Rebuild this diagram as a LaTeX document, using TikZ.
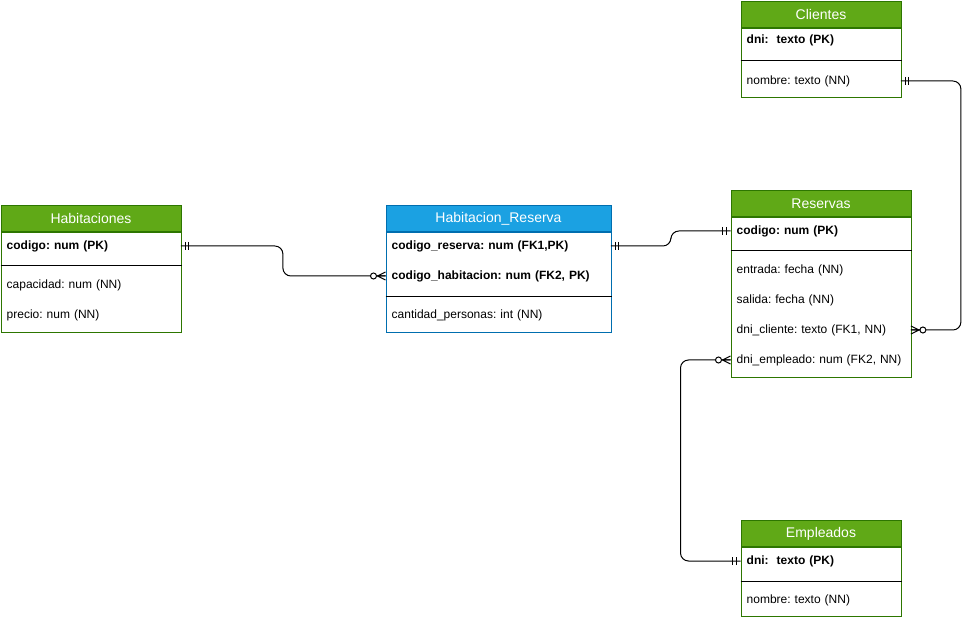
\documentclass[tikz,border=0pt]{standalone}
\usepackage{fontspec}
\setmainfont{Liberation Sans}
\usetikzlibrary{calc}
\definecolor{grn}{HTML}{60A917}
\definecolor{grnd}{HTML}{2D7600}
\definecolor{blu}{HTML}{1BA1E2}
\definecolor{blud}{HTML}{006EAF}
\tikzset{
  hdr/.style={anchor=north west, inner sep=0pt, minimum height=26pt, text=white,
    font=\fontsize{14pt}{16pt}\selectfont, line width=1pt},
  tbox/.style={anchor=north west, inner sep=0pt, fill=white, line width=1pt},
  sepline/.style={line width=1pt, black},
  row/.style={anchor=west, inner xsep=6pt, inner ysep=0pt, text width=#1, align=left,
    font=\fontsize{12pt}{14pt}\selectfont},
  conn/.style={line width=1pt, rounded corners=8pt},
  mk/.style={line width=1pt},
  onemark/.pic={\draw[mk] (4.3,-4) -- (4.3,4) (7.7,-4) -- (7.7,4);},
  zmany/.pic={\draw[mk] (0,-4) -- (8,0) -- (0,4) (0,0) -- (9,0);
              \draw[mk,fill=white] (12,0) circle (3pt);}
}
\begin{document}
\frenchspacing
\begin{tikzpicture}[x=1pt,y=-1pt]
\fill[white] (0,0) rectangle (970,620);
\useasboundingbox (0,0) rectangle (970,620);

% Habitaciones
\node[hdr, fill=grn, draw=grnd, minimum width=180pt] (habh) at (0.5,205) {Habitaciones};
\node[tbox, draw=grnd, minimum width=180pt, minimum height=100pt] (habb) at (habh.south west) {};
\draw[sepline] (habb.west |- 0,266) -- (habb.east |- 0,266);
\node[row=168pt] (habcod) at (habb.west |- 0,246) {\bfseries codigo: num (PK)};
\node[row=168pt] (habcap) at (habb.west |- 0,285) {capacidad: num (NN)};
\node[row=168pt] (habpre) at (habb.west |- 0,315) {precio: num (NN)};

% Habitacion_Reserva
\node[hdr, fill=blu, draw=blud, minimum width=225pt] (hrh) at (385.5,205) {Habitacion\_Reserva};
\node[tbox, draw=blud, minimum width=225pt, minimum height=100pt] (hrb) at (hrh.south west) {};
\draw[sepline] (hrb.west |- 0,297) -- (hrb.east |- 0,297);
\node[row=213pt] (hrres) at (hrb.west |- 0,246) {\bfseries codigo\_reserva: num (FK1,PK)};
\node[row=213pt] (hrhab) at (hrb.west |- 0,276) {\bfseries codigo\_habitacion: num (FK2, PK)};
\node[row=213pt] (hrcan) at (hrb.west |- 0,315) {cantidad\_personas: int (NN)};

% Reservas
\node[hdr, fill=grn, draw=grnd, minimum width=180pt] (resh) at (730.5,190) {Reservas};
\node[tbox, draw=grnd, minimum width=180pt, minimum height=160pt] (resb) at (resh.south west) {};
\draw[sepline] (resb.west |- 0,251) -- (resb.east |- 0,251);
\node[row=168pt] (rescod) at (resb.west |- 0,231) {\bfseries codigo: num (PK)};
\node[row=168pt] (resent) at (resb.west |- 0,270) {entrada: fecha (NN)};
\node[row=168pt] (ressal) at (resb.west |- 0,300) {salida: fecha (NN)};
\node[row=168pt] (rescli) at (resb.west |- 0,330) {dni\_cliente: texto (FK1, NN)};
\node[row=168pt] (resemp) at (resb.west |- 0,360) {dni\_empleado: num (FK2, NN)};

% Clientes
\node[hdr, fill=grn, draw=grnd, minimum width=160pt] (clih) at (740.5,1) {Clientes};
\node[tbox, draw=grnd, minimum width=160pt, minimum height=69pt] (clib) at (clih.south west) {};
\draw[sepline] (clib.west |- 0,61) -- (clib.east |- 0,61);
\node[row=148pt] (clidni) at (clib.west |- 0,40) {\bfseries dni:\ \ texto (PK)};
\node[row=148pt] (clinom) at (clib.west |- 0,81) {nombre: texto (NN)};

% Empleados
\node[hdr, fill=grn, draw=grnd, minimum width=160pt] (emph) at (740.5,520) {Empleados};
\node[tbox, draw=grnd, minimum width=160pt, minimum height=69pt] (empb) at (emph.south west) {};
\draw[sepline] (empb.west |- 0,581) -- (empb.east |- 0,581);
\node[row=148pt] (empdni) at (empb.west |- 0,561) {\bfseries dni:\ \ texto (PK)};
\node[row=148pt] (empnom) at (empb.west |- 0,600) {nombre: texto (NN)};

% connectors
\draw[conn] (habcod.east) -- ++(102pt,0) |- (hrhab.west);
\draw[conn] (hrres.east) -- ++(60pt,0) |- (rescod.west);
\draw[conn] (clinom.east) -- ++(60pt,0) |- (rescli.east);
\draw[conn] (resemp.west) -- ++(-50pt,0) |- (empdni.west);

% markers
\pic at (habcod.east) {onemark};
\pic[xscale=-1] at (hrhab.west) {zmany};
\pic at (hrres.east) {onemark};
\pic[xscale=-1] at (rescod.west) {onemark};
\pic at (clinom.east) {onemark};
\pic at (rescli.east) {zmany};
\pic[xscale=-1] at (resemp.west) {zmany};
\pic[xscale=-1] at (empdni.west) {onemark};
\end{tikzpicture}
\end{document}
